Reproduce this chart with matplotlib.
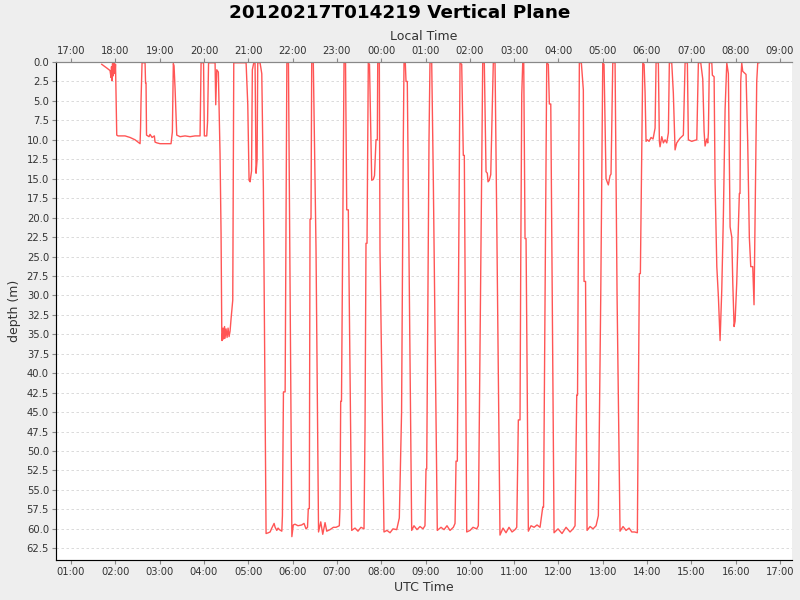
import matplotlib
matplotlib.use('Agg')
import matplotlib.pyplot as plt
from matplotlib.ticker import MultipleLocator, FormatStrFormatter

# dive profile: time in UTC hours, depth in metres
utc_hours = [
    1.693, 1.813, 1.880, 1.903, 1.914, 1.925, 1.937, 1.948, 1.959, 1.982, 1.993, 2.004,
    2.032, 2.061, 2.219, 2.332, 2.445, 2.513, 2.558, 2.569, 2.580, 2.603, 2.671, 2.682,
    2.693, 2.704, 2.761, 2.783, 2.829, 2.881, 2.896, 2.941, 3.009, 3.257, 3.287, 3.309,
    3.325, 3.348, 3.386, 3.461, 3.574, 3.686, 3.799, 3.912, 3.935, 3.991, 4.009, 4.063,
    4.081, 4.104, 4.251, 4.266, 4.289, 4.325, 4.363, 4.386, 4.402, 4.408, 4.431, 4.443,
    4.465, 4.476, 4.499, 4.522, 4.544, 4.567, 4.589, 4.612, 4.650, 4.673, 4.951, 4.989,
    5.018, 5.041, 5.074, 5.092, 5.124, 5.153, 5.176, 5.199, 5.214, 5.266, 5.305, 5.341,
    5.402, 5.454, 5.493, 5.531, 5.583, 5.606, 5.644, 5.673, 5.703, 5.757, 5.771, 5.794,
    5.832, 5.871, 5.907, 5.984, 6.016, 6.054, 6.122, 6.206, 6.258, 6.303, 6.337, 6.355,
    6.378, 6.394, 6.416, 6.432, 6.468, 6.529, 6.586, 6.636, 6.681, 6.733, 6.771, 6.846,
    6.920, 6.981, 7.055, 7.070, 7.086, 7.104, 7.161, 7.195, 7.222, 7.258, 7.334, 7.409,
    7.476, 7.544, 7.612, 7.635, 7.657, 7.680, 7.709, 7.736, 7.786, 7.822, 7.849, 7.883,
    7.913, 7.922, 7.958, 7.973, 8.063, 8.131, 8.199, 8.266, 8.350, 8.409, 8.460, 8.499,
    8.515, 8.544, 8.560, 8.589, 8.688, 8.740, 8.808, 8.876, 8.943, 8.988, 9.011, 9.027,
    9.079, 9.101, 9.140, 9.176, 9.266, 9.350, 9.418, 9.485, 9.553, 9.628, 9.666, 9.689,
    9.718, 9.779, 9.817, 9.853, 9.876, 9.930, 10.005, 10.072, 10.156, 10.192, 10.242, 10.291,
    10.327, 10.366, 10.395, 10.411, 10.440, 10.472, 10.530, 10.569, 10.607, 10.681, 10.749, 10.817,
    10.884, 10.953, 11.020, 11.059, 11.095, 11.133, 11.149, 11.172, 11.194, 11.217, 11.246, 11.269,
    11.321, 11.382, 11.450, 11.517, 11.585, 11.646, 11.664, 11.736, 11.772, 11.795, 11.827, 11.901,
    11.991, 12.081, 12.172, 12.262, 12.330, 12.375, 12.413, 12.431, 12.472, 12.517, 12.562, 12.578,
    12.612, 12.646, 12.714, 12.781, 12.849, 12.901, 12.955, 13.000, 13.029, 13.074, 13.126, 13.165,
    13.187, 13.226, 13.278, 13.323, 13.390, 13.458, 13.526, 13.594, 13.655, 13.718, 13.781, 13.826,
    13.849, 13.903, 13.933, 13.955, 13.977, 14.007, 14.045, 14.090, 14.135, 14.181, 14.203, 14.255,
    14.278, 14.293, 14.332, 14.368, 14.406, 14.445, 14.481, 14.503, 14.557, 14.593, 14.632, 14.670,
    14.745, 14.819, 14.858, 14.910, 14.932, 15.009, 15.061, 15.122, 15.158, 15.212, 15.257, 15.287,
    15.309, 15.348, 15.370, 15.384, 15.406, 15.461, 15.474, 15.513, 15.535, 15.574, 15.610, 15.648,
    15.686, 15.722, 15.761, 15.799, 15.835, 15.874, 15.912, 15.935, 15.964, 15.987, 16.023, 16.060,
    16.083, 16.098, 16.114, 16.137, 16.159, 16.234, 16.272, 16.308, 16.340, 16.385, 16.414, 16.437,
    16.475, 16.498, 16.527,
]
depth_m = [
    0.3, 0.8, 1.1, 2.0, 0.6, 2.4, 0.2, 1.8, 0.2, 0.2, 1.5, 0.3,
    9.4, 9.5, 9.5, 9.7, 10.0, 10.3, 10.5, 8.5, 5.0, 0.1, 0.1, 2.7,
    2.7, 9.4, 9.6, 9.3, 9.7, 9.5, 10.3, 10.4, 10.5, 10.5, 9.0, 0.2,
    0.5, 3.4, 9.4, 9.6, 9.5, 9.6, 9.5, 9.5, 0.1, 0.1, 9.5, 9.5,
    7.7, 0.1, 0.1, 5.5, 1.0, 1.3, 11.8, 22.0, 34.5, 35.8, 34.2, 35.6,
    34.0, 35.5, 34.3, 35.4, 34.2, 35.3, 34.6, 33.0, 30.6, 0.1, 0.1, 5.5,
    15.2, 15.4, 14.0, 1.0, 0.1, 0.1, 14.3, 12.6, 0.1, 0.1, 1.5, 16.2,
    60.6, 60.5, 60.4, 59.9, 59.3, 59.8, 60.2, 59.9, 60.1, 60.3, 58.3, 42.4,
    42.4, 0.1, 0.1, 61.0, 59.5, 59.4, 59.6, 59.5, 59.3, 60.0, 59.8, 57.4,
    57.4, 20.2, 20.2, 0.1, 0.1, 24.0, 60.4, 59.1, 60.7, 59.2, 60.3, 60.1,
    59.8, 59.8, 59.6, 57.4, 43.6, 43.6, 0.1, 0.1, 19.0, 19.0, 60.2, 59.9,
    60.3, 59.8, 60.0, 47.0, 23.3, 23.3, 0.1, 0.3, 15.2, 15.1, 14.6, 10.0,
    10.0, 0.1, 0.1, 24.2, 60.4, 60.2, 60.5, 60.0, 60.1, 58.6, 45.0, 10.0,
    0.1, 0.1, 2.5, 2.5, 60.2, 59.6, 60.1, 59.7, 60.0, 59.6, 52.3, 52.3,
    10.0, 0.1, 0.1, 15.0, 60.2, 59.8, 60.1, 59.6, 60.2, 59.8, 59.3, 51.3,
    51.3, 0.1, 0.3, 12.0, 12.0, 60.4, 60.2, 59.8, 60.0, 59.6, 30.0, 0.1,
    0.1, 14.1, 14.3, 15.4, 15.2, 14.5, 0.1, 0.1, 20.0, 60.8, 59.9, 60.5,
    59.8, 60.4, 60.1, 59.8, 46.0, 46.0, 26.1, 4.2, 0.1, 0.1, 22.7, 22.7,
    60.3, 59.6, 59.8, 59.5, 59.8, 57.2, 57.2, 0.1, 0.3, 5.4, 5.4, 60.5,
    60.0, 60.6, 59.8, 60.4, 60.0, 59.6, 42.8, 42.8, 0.1, 0.1, 3.6, 28.2,
    28.2, 60.2, 59.7, 60.0, 59.6, 58.3, 30.0, 0.1, 0.3, 15.0, 15.8, 14.6,
    14.4, 0.1, 0.1, 30.0, 60.3, 59.7, 60.2, 59.9, 60.4, 60.4, 60.5, 27.2,
    27.2, 0.1, 0.3, 3.9, 10.2, 10.0, 10.2, 9.7, 9.9, 8.5, 0.1, 0.1,
    10.2, 10.9, 9.6, 10.4, 10.0, 10.4, 9.1, 0.1, 0.1, 4.0, 11.3, 10.4,
    9.8, 9.4, 0.1, 0.1, 10.0, 10.2, 10.1, 10.0, 0.1, 0.1, 2.2, 8.9,
    10.8, 9.9, 10.4, 9.1, 0.1, 0.1, 1.7, 1.9, 15.6, 26.3, 30.2, 35.8,
    29.3, 19.9, 6.1, 0.1, 1.5, 21.2, 22.5, 28.5, 34.0, 33.3, 28.5, 21.2,
    16.9, 16.9, 2.5, 0.1, 1.2, 1.6, 10.5, 22.5, 26.3, 26.3, 31.2, 20.0,
    2.5, 0.1, 0.1,
]

utc_ticks = list(range(1, 18))
utc_offset = -8  # local time = UTC - 8 h

fig = plt.figure(figsize=(8, 6), dpi=100, facecolor='#eeeeee')
ax = fig.add_axes([0.07, 0.0667, 0.92, 0.83])
ax.set_facecolor('white')

ax.plot(utc_hours, depth_m, color='#ff5555', linewidth=1.0)

ax.set_xlim(0.661, 17.271)
ax.set_ylim(64.0, 0.0)
ax.yaxis.set_major_locator(MultipleLocator(2.5))
ax.yaxis.set_major_formatter(FormatStrFormatter('%.1f'))
ax.set_xticks(utc_ticks)
ax.set_xticklabels([f'{h:02d}:00' for h in utc_ticks])
ax.grid(axis='y', color='#d4d4d4', linestyle=(0, (3, 3)), linewidth=0.6)

for side in ['left', 'bottom', 'top']:
    ax.spines[side].set_color('#888888')
ax.spines['right'].set_visible(False)
ax.tick_params(axis='both', labelsize=7.2, colors='#888888', labelcolor='#333333',
               length=3, width=0.8, direction='out', pad=2)

ax.set_xlabel('UTC Time', fontsize=9, color='#333333', labelpad=3)
ax.set_ylabel('depth (m)', fontsize=9, color='#333333', labelpad=4)

# local time axis on top
top = ax.twiny()
top.set_xlim(ax.get_xlim())
top.set_xticks(utc_ticks)
top.set_xticklabels([f'{(h + utc_offset) % 24:02d}:00' for h in utc_ticks])
top.spines['right'].set_visible(False)
top.spines['top'].set_color('#888888')
top.tick_params(axis='x', labelsize=7.2, colors='#888888', labelcolor='#333333',
                length=3, width=0.8, direction='out', pad=1.5)
top.set_xlabel('Local Time', fontsize=9, color='#333333', labelpad=4)

fig.suptitle('20120217T014219 Vertical Plane', fontsize=13.2, fontweight='bold',
             y=0.993, va='top')

fig.savefig('out.png', dpi=100, facecolor=fig.get_facecolor())
